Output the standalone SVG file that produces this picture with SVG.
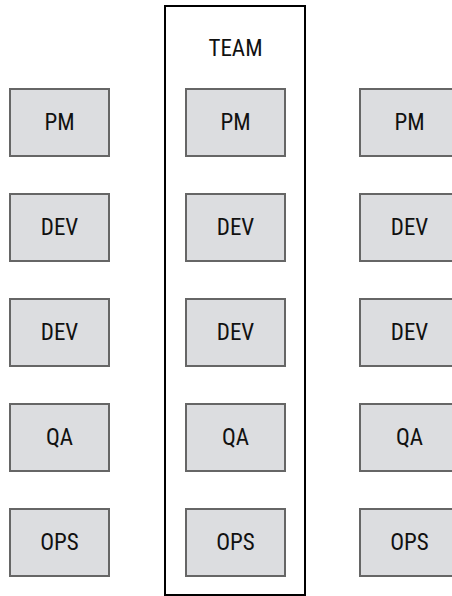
<svg xmlns="http://www.w3.org/2000/svg" width="452" height="596" viewBox="0 0 452 596">
<style>
.box{fill:#dcdde0;stroke:#666;stroke-width:2}
.lbl{font-family:"Liberation Sans Narrow","Roboto Condensed","Liberation Sans",sans-serif;font-size:23px;fill:#111;text-anchor:middle}
.team{fill:#fff;stroke:#000;stroke-width:2}
</style>
<defs>
<g id="b"><rect class="box" x="0" y="0" width="99" height="67"/></g>
</defs>
<g id="team"><rect class="team" x="165" y="6" width="140" height="589"/><text class="lbl" x="235.5" y="56">TEAM</text></g>
<g id="connectors"></g>
<g id="l-pm"><use href="#b" x="10" y="89"/><text class="lbl" x="59.5" y="130">PM</text></g>
<g id="l-dev1"><use href="#b" x="10" y="194"/><text class="lbl" x="59.5" y="235">DEV</text></g>
<g id="l-dev2"><use href="#b" x="10" y="299"/><text class="lbl" x="59.5" y="340">DEV</text></g>
<g id="l-qa"><use href="#b" x="10" y="404"/><text class="lbl" x="59.5" y="445">QA</text></g>
<g id="l-ops"><use href="#b" x="10" y="509"/><text class="lbl" x="59.5" y="550">OPS</text></g>
<g id="m-pm"><use href="#b" x="186" y="89"/><text class="lbl" x="235.5" y="130">PM</text></g>
<g id="m-dev1"><use href="#b" x="186" y="194"/><text class="lbl" x="235.5" y="235">DEV</text></g>
<g id="m-dev2"><use href="#b" x="186" y="299"/><text class="lbl" x="235.5" y="340">DEV</text></g>
<g id="m-qa"><use href="#b" x="186" y="404"/><text class="lbl" x="235.5" y="445">QA</text></g>
<g id="m-ops"><use href="#b" x="186" y="509"/><text class="lbl" x="235.5" y="550">OPS</text></g>
<g id="r-pm"><use href="#b" x="360" y="89"/><text class="lbl" x="409.5" y="130">PM</text></g>
<g id="r-dev1"><use href="#b" x="360" y="194"/><text class="lbl" x="409.5" y="235">DEV</text></g>
<g id="r-dev2"><use href="#b" x="360" y="299"/><text class="lbl" x="409.5" y="340">DEV</text></g>
<g id="r-qa"><use href="#b" x="360" y="404"/><text class="lbl" x="409.5" y="445">QA</text></g>
<g id="r-ops"><use href="#b" x="360" y="509"/><text class="lbl" x="409.5" y="550">OPS</text></g>
</svg>
